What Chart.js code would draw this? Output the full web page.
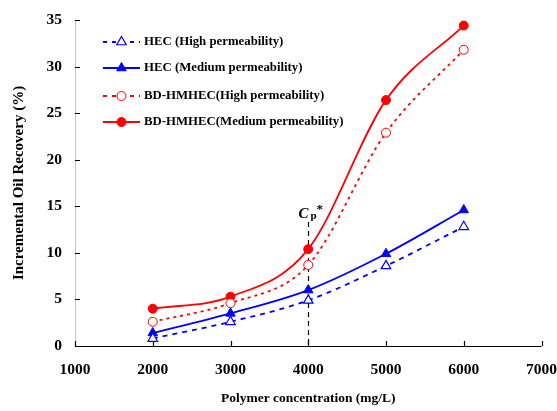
<!DOCTYPE html>
<html>
<head>
<meta charset="utf-8">
<script src="https://cdn.jsdelivr.net/npm/chart.js@4"></script>
<style>
  html, body { margin: 0; padding: 0; background: #fff; }
  #wrap { width: 557px; height: 411px; }
</style>
</head>
<body>
<div id="wrap"><canvas id="myChart"></canvas></div>
<script>
// polymer concentrations (mg/L)
const concentrations = [2000, 3000, 4000, 5000, 6000];
// incremental oil recovery (%)
const hecHigh = [0.8, 2.6, 4.9, 8.6, 12.8];
const hecMedium = [1.4, 3.5, 6.0, 9.9, 14.6];
const bdHigh = [2.6, 4.6, 8.7, 22.9, 31.8];
const bdMedium = [4.0, 5.3, 10.4, 26.4, 34.4];
const seriesNames = [
  "HEC (High permeability)",
  "HEC (Medium permeability)",
  "BD-HMHEC(High permeability)",
  "BD-HMHEC(Medium permeability)"
];
const xTicks = [1000, 2000, 3000, 4000, 5000, 6000, 7000];
const yTicks = [0, 5, 10, 15, 20, 25, 30, 35];
const cpValue = 4000;
const cpTop = 13.3;

const serif = "'Liberation Serif', 'Times New Roman', serif";

function toPoints(vals) {
  return vals.map((v, i) => ({ x: concentrations[i], y: v }));
}

const datasets = [
  { label: seriesNames[0], data: toPoints(hecHigh), borderColor: "#0000ff", backgroundColor: "#ffffff",
    borderDash: [5, 5], pointStyle: "triangle", pointRadius: 5.5, pointBorderColor: "#0000ff",
    pointBackgroundColor: "#ffffff", pointBorderWidth: 1.2 },
  { label: seriesNames[1], data: toPoints(hecMedium), borderColor: "#0000ff", backgroundColor: "#0000ff",
    borderDash: [], pointStyle: "triangle", pointRadius: 5.5, pointBorderColor: "#0000ff",
    pointBackgroundColor: "#0000ff", pointBorderWidth: 1 },
  { label: seriesNames[2], data: toPoints(bdHigh), borderColor: "#ff0000", backgroundColor: "#ffffff",
    borderDash: [3, 4], pointStyle: "circle", pointRadius: 4.5, pointBorderColor: "#ff0000",
    pointBackgroundColor: "#ffffff", pointBorderWidth: 1 },
  { label: seriesNames[3], data: toPoints(bdMedium), borderColor: "#ff0000", backgroundColor: "#ff0000",
    borderDash: [], pointStyle: "circle", pointRadius: 4.5, pointBorderColor: "#ff0000",
    pointBackgroundColor: "#ff0000", pointBorderWidth: 1 }
];
datasets.forEach(d => {
  d.borderWidth = 1.8;
  d.cubicInterpolationMode = "monotone";
  d.pointHoverRadius = d.pointRadius;
});

// axis lines, inward tick marks, Cp* marker and the legend
const extras = {
  id: "extras",
  beforeDatasetsDraw(chart) {
    const ctx = chart.ctx;
    const xs = chart.scales.x, ys = chart.scales.y;
    const area = chart.chartArea;
    ctx.save();
    ctx.lineWidth = 1;
    ctx.strokeStyle = "#c8c8c8";
    ctx.beginPath();
    ctx.moveTo(area.left + 0.5, ys.getPixelForValue(35));
    ctx.lineTo(area.left + 0.5, area.bottom);
    ctx.stroke();
    ctx.strokeStyle = "#000";
    ctx.lineWidth = 1.2;
    ctx.beginPath();
    ctx.moveTo(area.left, Math.round(area.bottom) + 0.5);
    ctx.lineTo(area.right, Math.round(area.bottom) + 0.5);
    yTicks.forEach(v => {
      const py = Math.round(ys.getPixelForValue(v)) + 0.5;
      ctx.moveTo(area.left, py);
      ctx.lineTo(area.left + 5, py);
    });
    xTicks.forEach(v => {
      const px = Math.round(xs.getPixelForValue(v)) + 0.5;
      ctx.moveTo(px, area.bottom);
      ctx.lineTo(px, area.bottom - 5);
    });
    ctx.stroke();

    // Cp* dashed line
    const cx = Math.round(xs.getPixelForValue(cpValue)) + 0.5;
    ctx.setLineDash([5, 4]);
    ctx.lineWidth = 1.2;
    ctx.beginPath();
    ctx.moveTo(cx, ys.getPixelForValue(cpTop));
    ctx.lineTo(cx, ys.getPixelForValue(0));
    ctx.stroke();
    ctx.setLineDash([]);
    const ty = ys.getPixelForValue(cpTop) - 4;
    ctx.fillStyle = "#000";
    ctx.textBaseline = "alphabetic";
    ctx.font = "italic bold 15px " + serif;
    ctx.fillText("C", cx - 10, ty);
    ctx.font = "bold 11px " + serif;
    ctx.fillText("p", cx + 2, ty + 1);
    ctx.font = "bold 13px " + serif;
    ctx.fillText("*", cx + 8, ty - 5);
    ctx.restore();
  },
  afterDraw(chart) {
    const ctx = chart.ctx;
    ctx.save();
    const lx0 = 103, lx1 = 140, tx = 144;
    const rowsY = [42, 68, 96, 122];
    chart.data.datasets.forEach((d, i) => {
      const y = rowsY[i];
      ctx.strokeStyle = d.borderColor;
      ctx.lineWidth = 1.8;
      ctx.setLineDash(d.borderDash.length ? [4, 5] : []);
      ctx.beginPath();
      ctx.moveTo(lx0, y);
      ctx.lineTo(lx1, y);
      ctx.stroke();
      ctx.setLineDash([]);
      ctx.lineWidth = d.pointBorderWidth;
      ctx.fillStyle = d.pointBackgroundColor;
      Chart.helpers.drawPoint(ctx, { pointStyle: d.pointStyle, radius: d.pointRadius, borderWidth: d.pointBorderWidth, rotation: 0 }, (lx0 + lx1) / 2, y);
      ctx.fillStyle = "#000";
      ctx.font = "bold 12.8px " + serif;
      ctx.textBaseline = "middle";
      ctx.fillText(d.label, tx, y);
    });
    ctx.restore();
  }
};

const chart = new Chart(document.getElementById("myChart"), {
  type: "line",
  data: { datasets: datasets },
  options: {
    responsive: true,
    maintainAspectRatio: false,
    animation: false,
    layout: { padding: { top: 20, right: 0, left: 0, bottom: 0 } },
    plugins: { legend: { display: false }, tooltip: { enabled: false } },
    scales: {
      x: {
        type: "linear",
        min: 1000, max: 7000,
        afterBuildTicks: s => { s.ticks = xTicks.map(v => ({ value: v })); },
        afterFit: s => { s.height = 65; },
        grid: { display: false, drawTicks: true, tickLength: 15 },
        border: { display: false },
        ticks: { color: "#000", padding: 0, callback: v => String(v),
          font: { family: serif, size: 15.5, weight: "bold" } },
        title: { display: true, text: "Polymer concentration (mg/L)", color: "#000", padding: { top: 8 },
          font: { family: serif, size: 13.5, weight: "bold" } }
      },
      y: {
        min: 0, max: 35,
        afterBuildTicks: s => { s.ticks = yTicks.map(v => ({ value: v })); },
        afterFit: s => { s.width = 75; },
        grid: { display: false, drawTicks: true, tickLength: 13 },
        border: { display: false },
        ticks: { color: "#000", padding: 0, font: { family: serif, size: 15.5, weight: "bold" } },
        title: { display: true, text: "Incremental Oil Recovery (%)", color: "#000", padding: { top: 10, bottom: 0 },
          font: { family: serif, size: 15, weight: "bold" } }
      }
    }
  },
  plugins: [extras]
});
</script>
</body>
</html>
